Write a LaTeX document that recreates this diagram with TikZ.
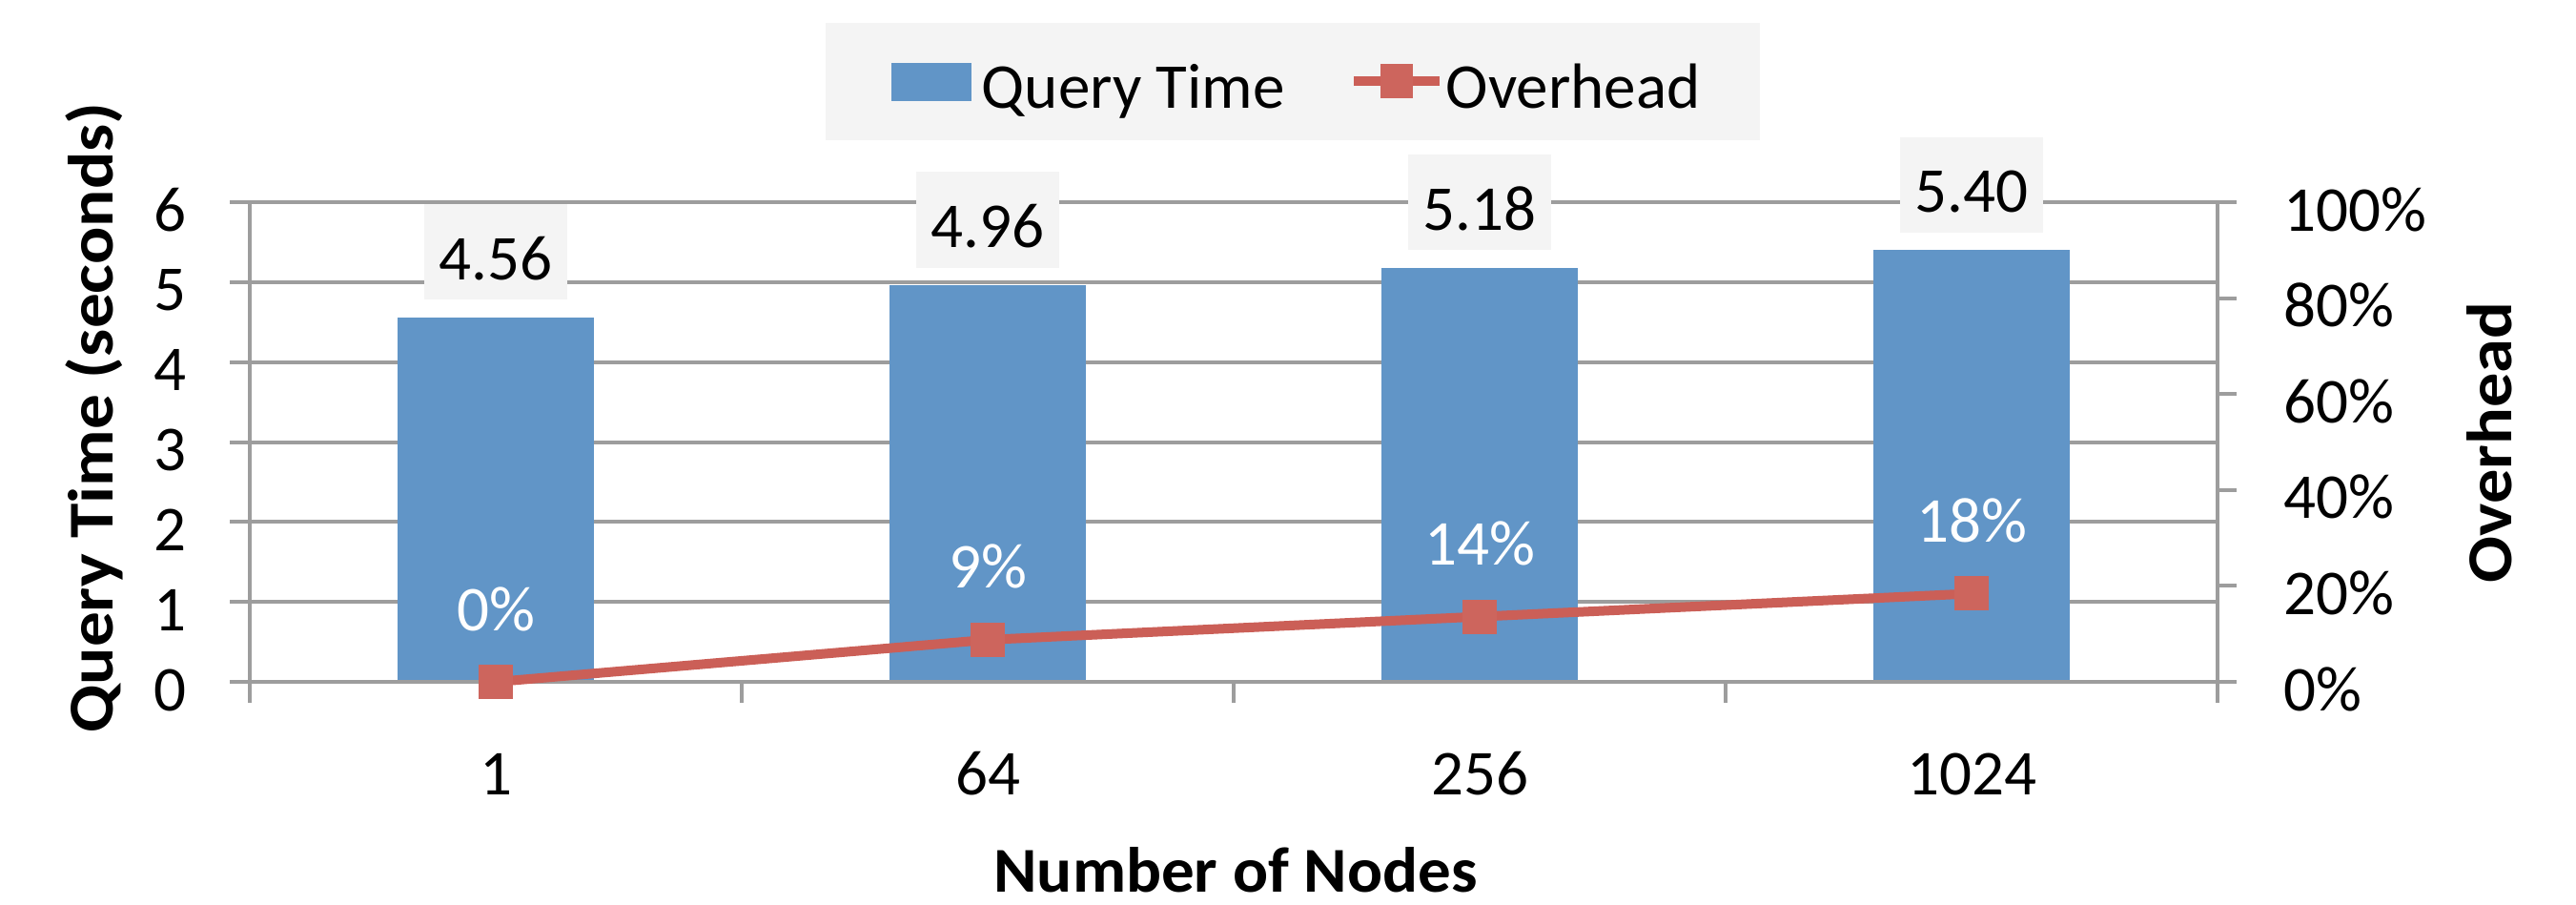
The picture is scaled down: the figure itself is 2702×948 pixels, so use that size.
\documentclass[tikz,border=0pt]{standalone}
\usepackage{fontspec}
\setmainfont{Carlito}
\definecolor{barblue}{HTML}{6195C7}
\definecolor{linered}{HTML}{CB5F57}
\definecolor{markred}{HTML}{CD655D}
\definecolor{gridgray}{HTML}{9D9D9D}
\definecolor{boxgray}{HTML}{F4F4F4}
\tikzset{
  lbl/.style={inner sep=0pt, font=\fontsize{19.06pt}{22pt}\selectfont},
  boldlbl/.style={lbl, font=\fontsize{19.06pt}{22pt}\selectfont\bfseries},
  gridln/.style={draw=gridgray, line width=0.04cm},
  databox/.style={lbl, fill=boxgray, minimum width=1.5cm, minimum height=1cm, text height=0.58cm, text depth=0pt, anchor=south},
  pctlbl/.style={lbl, text=white, anchor=base},
  mk/.style={fill=markred, minimum size=0.36cm, inner sep=0pt, draw=none},
  serline/.style={draw=linered, line width=0.1cm},
}
\begin{document}
\begin{tikzpicture}[x=0.01cm,y=-0.01cm]
\useasboundingbox[fill=white] (0,0) rectangle (2702,948);
% legend
\node[fill=boxgray, minimum width=9.8cm, minimum height=1.23cm, inner sep=0pt, anchor=north west] (legend) at (865,23) {};
\node[fill=barblue, minimum width=0.84cm, minimum height=0.40cm, inner sep=0pt, anchor=north west] (legblue) at (934,65) {};
\node[lbl, anchor=base west] (legqt) at (1029,113) {Query Time};
\coordinate (legl) at (1420,85);
\coordinate (legr) at (1510,85);
\draw[serline] (legl) -- (legr);
\node[mk, minimum width=0.34cm, minimum height=0.35cm] (legmk) at (1465,85) {};
\node[lbl, anchor=base west] (legov) at (1516,113) {Overhead};
% horizontal gridlines
\foreach \k in {1,...,6}{
  \draw[gridln] (241,{715-\k*83.83}) -- (2326,{715-\k*83.83});
}
% bars
\foreach \cx/\v in {520/4.56,1036/4.96,1552/5.18,2068/5.40}{
  \fill[barblue] ({\cx-103},715) rectangle ({\cx+103},{715-\v*83.83});
}
% axes
\draw[gridln] (241,715) -- (2346,715);
\draw[gridln] (262,212) -- (262,737);
\draw[gridln] (2326,212) -- (2326,737);
\draw[gridln] (2326,212) -- (2346,212);
\foreach \x in {778,1294,1810}{
  \draw[gridln] (\x,715) -- (\x,737);
}
\foreach \k in {1,...,4}{
  \draw[gridln] (2326,{715-\k*100.6}) -- (2346,{715-\k*100.6});
}
% left tick labels
\foreach \k in {0,...,6}{
  \node[lbl, anchor=base east] (yl\k) at (196,{745-\k*83.83}) {\k};
}
% right tick labels
\foreach \k/\t in {0/0\%,1/20\%,2/40\%,3/60\%,4/80\%,5/100\%}{
  \node[lbl, anchor=base west] (yr\k) at (2395,{745-\k*100.6}) {\t};
}
% x labels
\node[lbl, anchor=base] (x1) at (520,833) {1};
\node[lbl, anchor=base] (x2) at (1036,833) {64};
\node[lbl, anchor=base] (x3) at (1552,833) {256};
\node[lbl, anchor=base] (x4) at (2068,833) {1024};
% axis titles
\node[boldlbl, anchor=base] (xt) at (1296,935) {\scalebox{1.03}[1]{Number of Nodes}};
\node[boldlbl, anchor=base, rotate=90] (ytl) at (118,438) {\scalebox{1.094}[1]{Query Time (seconds)}};
\node[boldlbl, anchor=base, rotate=90] (ytr) at (2634,464) {\scalebox{1.08}[1]{Overhead}};
% data labels
\node[databox] (d1) at (520,{715-4.56*83.83-18}) {4.56};
\node[databox] (d2) at (1036,{715-4.96*83.83-18}) {4.96};
\node[databox] (d3) at (1552,{715-5.18*83.83-18}) {5.18};
\node[databox] (d4) at (2068,{715-5.40*83.83-18}) {5.40};
% overhead series
\coordinate (p1) at (520,715);
\coordinate (p2) at (1036,{715-0.0877*503});
\coordinate (p3) at (1552,{715-0.136*503});
\coordinate (p4) at (2068,{715-0.184*503});
\draw[serline] (p1) -- (p2) -- (p3) -- (p4);
\node[mk] (m1) at (p1) {};
\node[mk] (m2) at (p2) {};
\node[mk] (m3) at (p3) {};
\node[mk] (m4) at (p4) {};
\node[pctlbl] (o1) at (520,{715-54}) {0\%};
\node[pctlbl] (o2) at (1036,{715-0.0877*503-54}) {9\%};
\node[pctlbl] (o3) at (1552,{715-0.136*503-54}) {14\%};
\node[pctlbl] (o4) at (2068,{715-0.184*503-54}) {18\%};
\end{tikzpicture}
\end{document}
